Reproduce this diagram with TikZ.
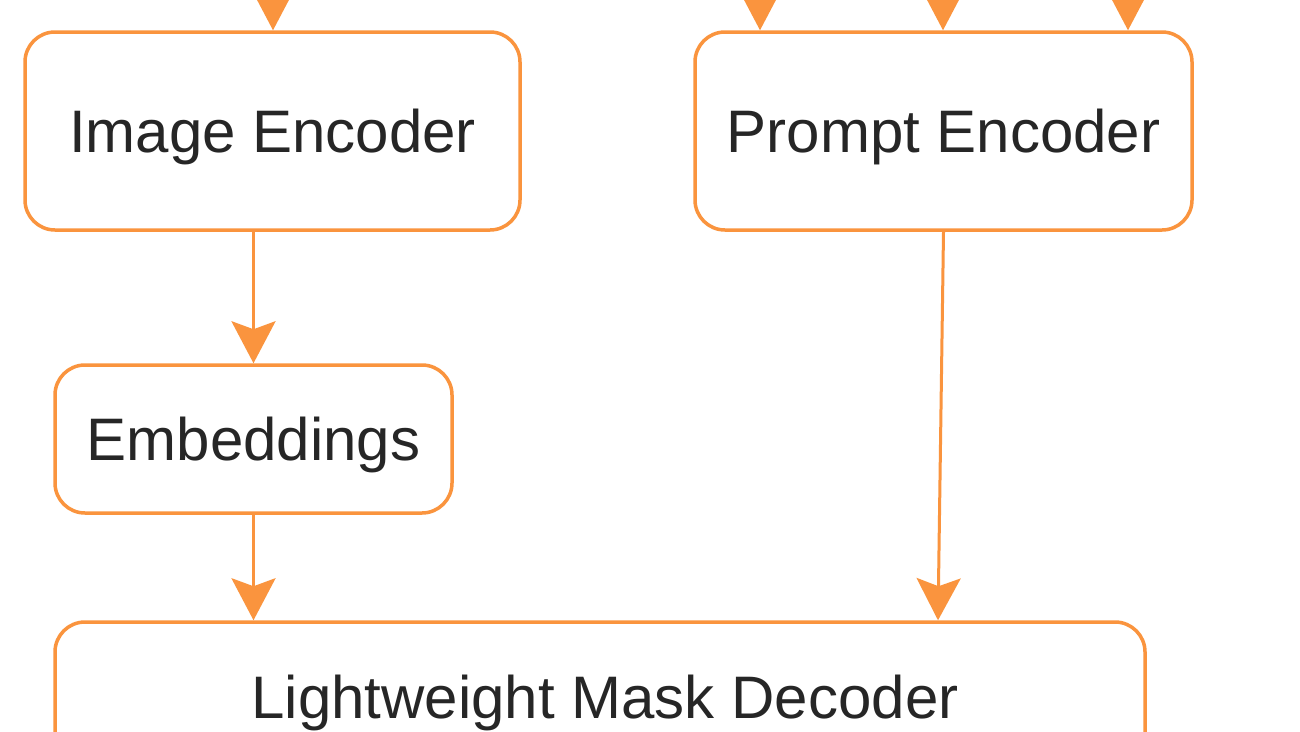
\documentclass[tikz,border=0pt]{standalone}
\usepackage{fontspec}
\setmainfont{Liberation Sans}
\usetikzlibrary{arrows.meta,calc}
\definecolor{edgeorange}{RGB}{250,148,62}
\begin{document}
\begin{tikzpicture}[x=1pt,y=-1pt,
  block/.style={draw=edgeorange,line width=3.5pt,rounded corners=30pt,fill=white,
    inner sep=0pt,text depth=0pt,font=\fontsize{60}{72}\selectfont,text=black!85},
  arr/.style={draw=edgeorange,line width=3pt,-{Stealth[length=42pt,width=44pt,inset=8pt]}}]
\useasboundingbox (0,0) rectangle (1300,731);
\fill[white] (0,0) rectangle (1300,731);
\begin{scope}
\clip (0,0) rectangle (1300,731);
\node[block,minimum width=495pt,minimum height=198pt] (ie) at (272.5,131) {Image Encoder};
\node[block,minimum width=497pt,minimum height=198pt] (pe) at (943.5,131) {Prompt Encoder};
\node[block,minimum width=397pt,minimum height=148pt] (emb) at (253.5,439) {Embeddings};
\node[block,minimum width=1090pt,minimum height=160pt] (dec) at (600,702) {};
\node[font=\fontsize{60}{72}\selectfont,text=black!85,anchor=base] (dect) at (605,718) {Lightweight Mask Decoder};
\coordinate (in1) at (273,-60);
\coordinate (in2) at (760,-60);
\coordinate (in3) at (943,-60);
\coordinate (in4) at (1128,-60);
\draw[arr] (in1) -- (in1 |- ie.north);
\draw[arr] (in2) -- (in2 |- pe.north);
\draw[arr] (in3) -- (in3 |- pe.north);
\draw[arr] (in4) -- (in4 |- pe.north);
\draw[arr] (emb.north |- ie.south) -- (emb.north);
\draw[arr] (emb.south) -- (emb.south |- dec.north);
\draw[arr] (pe.south) -- ([xshift=338pt]dec.north);
\end{scope}
\end{tikzpicture}
\end{document}
